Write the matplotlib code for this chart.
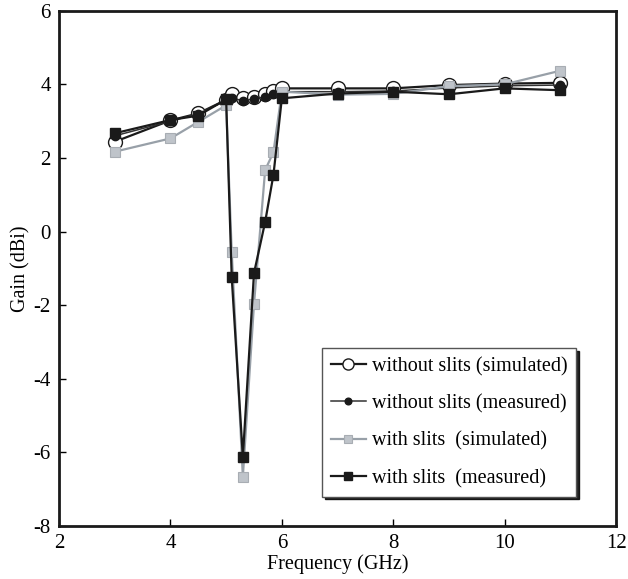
import matplotlib.pyplot as plt

plt.rcParams['font.family'] = ['Liberation Serif', 'DejaVu Serif']
plt.rcParams['axes.unicode_minus'] = False

# frequency points (GHz)
freq = [3, 4, 4.5, 5, 5.1, 5.3, 5.5, 5.7, 5.85, 6, 7, 8, 9, 10, 11]

# gain (dBi)
no_slit_sim = [2.44, 3.02, 3.21, 3.58, 3.75, 3.64, 3.66, 3.73, 3.82, 3.89, 3.89, 3.89, 3.98, 4.02, 4.04]
no_slit_meas = [2.6, 3.0, 3.2, 3.56, 3.62, 3.56, 3.6, 3.66, 3.74, 3.8, 3.8, 3.82, 3.9, 3.96, 3.98]
slit_sim = [2.17, 2.53, 2.98, 3.43, -0.55, -6.66, -1.97, 1.67, 2.16, 3.8, 3.72, 3.74, 3.95, 4.0, 4.37]
slit_meas = [2.67, 3.03, 3.15, 3.59, -1.24, -6.12, -1.13, 0.26, 1.55, 3.62, 3.75, 3.8, 3.73, 3.89, 3.84]

gray_line = '#98a0a8'
gray_fill = '#bfc4ca'

fig = plt.figure(figsize=(6.28, 5.79), dpi=100)
ax = fig.add_axes([0.094, 0.0915, 0.887, 0.890])

ax.plot(freq, no_slit_sim, color='#1a1a1a', lw=1.6, marker='o', ms=10,
        mfc='white', mec='#1a1a1a', mew=1.0, zorder=2,
        label='without slits (simulated)')
ax.plot(freq, no_slit_meas, color='#333333', lw=1.1, marker='o', ms=6,
        mfc='#1a1a1a', mec='#1a1a1a', zorder=3,
        label='without slits (measured)')
ax.plot(freq, slit_sim, color=gray_line, lw=1.6, marker='s', ms=7.5,
        mfc=gray_fill, mec='#a8adb3', mew=0.8, zorder=4,
        label='with slits  (simulated)')
ax.plot(freq, slit_meas, color='#1a1a1a', lw=1.6, marker='s', ms=7.5,
        mfc='#1a1a1a', mec='#1a1a1a', zorder=5,
        label='with slits  (measured)')

ax.set_xlim(2, 12)
ax.set_ylim(-8, 6)
ax.set_xticks([2, 4, 6, 8, 10, 12])
ax.set_yticks(range(-8, 7, 2))
ax.tick_params(direction='in', length=5, width=1, labelsize=15,
               top=False, right=False)
ax.tick_params(axis='x', pad=6)
ax.tick_params(axis='y', pad=6)
for s in ax.spines.values():
    s.set_linewidth(2.0)
    s.set_color('#1a1a1a')

ax.set_xlabel('Frequency (GHz)', fontsize=14.5, labelpad=1)
ax.set_ylabel('Gain (dBi)', fontsize=14.5, labelpad=2)

leg = ax.legend(loc='lower right', bbox_to_anchor=(0.928, 0.057),
                fontsize=14.5, labelspacing=0.9,
                handlelength=1.75, handletextpad=0.3, borderpad=0.42,
                borderaxespad=0, markerscale=0.8,
                fancybox=False, shadow={'color': 'black', 'alpha': 0.85},
                framealpha=1, edgecolor='#555555')
leg.get_frame().set_linewidth(1.0)

plt.savefig('out.png', dpi=100)
